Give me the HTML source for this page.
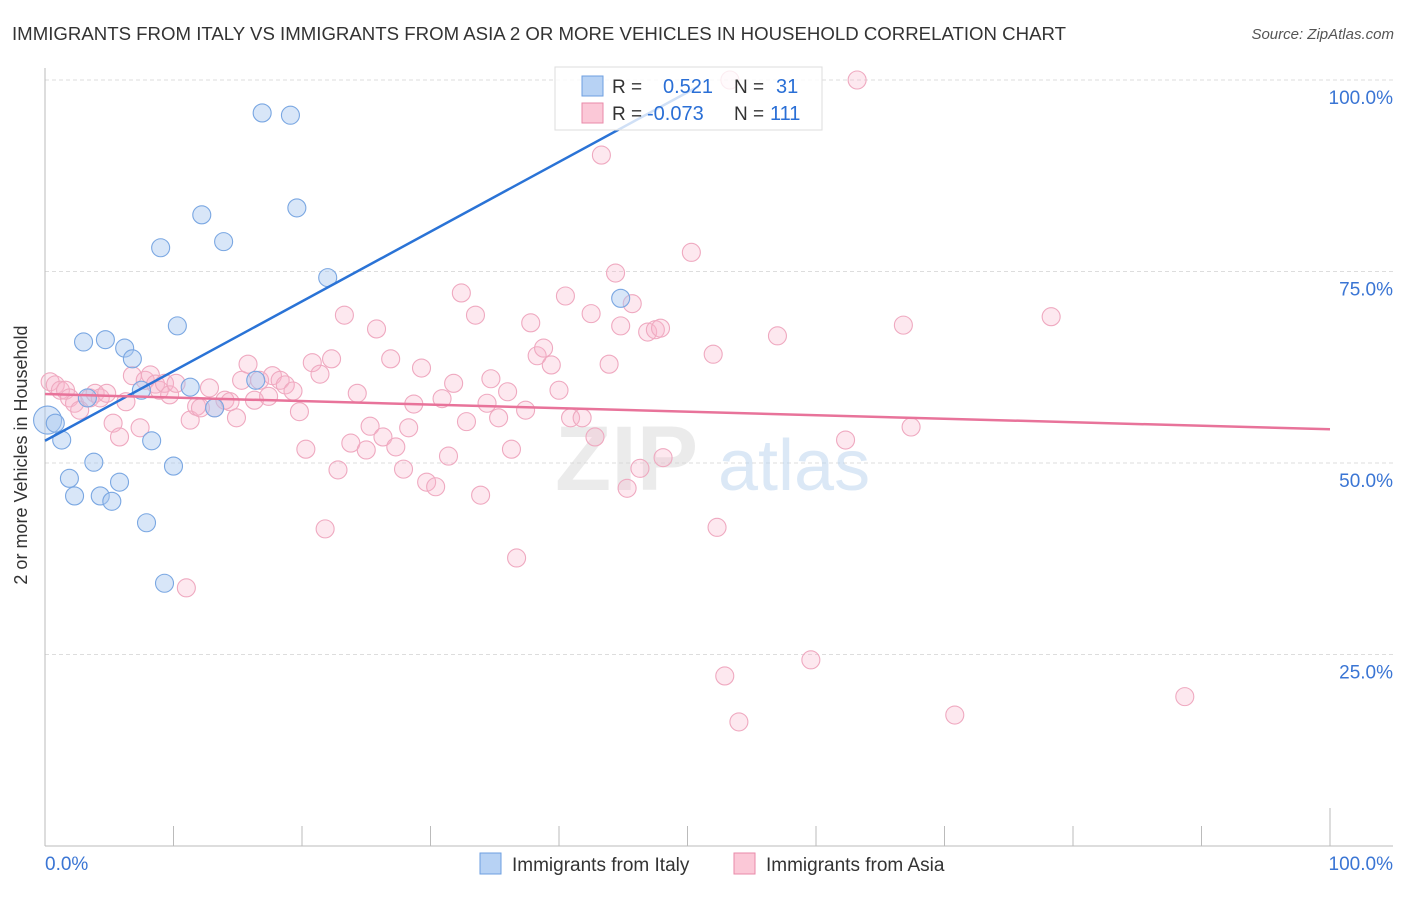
<!DOCTYPE html>
<html><head><meta charset="utf-8"><style>
body{margin:0;background:#fff;font-family:"Liberation Sans",sans-serif;}
svg text{font-family:"Liberation Sans",sans-serif;}
</style></head><body>
<svg id="chart" width="1406" height="892" xmlns="http://www.w3.org/2000/svg">
<text x="12" y="40" font-size="18" fill="#333" textLength="1054" lengthAdjust="spacingAndGlyphs">IMMIGRANTS FROM ITALY VS IMMIGRANTS FROM ASIA 2 OR MORE VEHICLES IN HOUSEHOLD CORRELATION CHART</text>
<text x="1394" y="39" font-size="15" fill="#555" font-style="italic" text-anchor="end">Source: ZipAtlas.com</text>
<g id="grid"></g>
<g opacity="0.5">
<text x="555" y="490" font-size="92" font-family="Liberation Serif" font-weight="bold" fill="#d8d8d8">ZIP</text>
<text x="718" y="490" font-size="72" fill="#b9d2ee">atlas</text>
</g>
<g id="points"></g>
<g id="lines"></g>
<text x="27" y="455" font-size="18" fill="#333" text-anchor="middle" transform="rotate(-90 27 455)">2 or more Vehicles in Household</text>
<g>
<rect x="555" y="67" width="267" height="63" fill="#fff" fill-opacity="0.78" stroke="#ddd"/>
<rect x="582" y="76" width="21" height="20" fill="#b7d2f4" stroke="#6e9fe0"/>
<rect x="582" y="103" width="21" height="20" fill="#fbc8d7" stroke="#e88aa8"/>
<text x="612" y="93" font-size="19" fill="#333">R = </text>
<text x="663" y="93" font-size="20" fill="#2a6fd6">0.521</text>
<text x="734" y="93" font-size="19" fill="#333">N = </text>
<text x="776" y="93" font-size="20" fill="#2a6fd6">31</text>
<text x="612" y="120" font-size="19" fill="#333">R = </text>
<text x="647" y="120" font-size="20" fill="#2a6fd6">-0.073</text>
<text x="734" y="120" font-size="19" fill="#333">N = </text>
<text x="770" y="120" font-size="20" fill="#2a6fd6">111</text>
</g>
<g>
<rect x="480" y="853" width="21" height="21" fill="#b7d2f4" stroke="#6e9fe0"/>
<text x="512" y="871" font-size="19" fill="#333">Immigrants from Italy</text>
<rect x="734" y="853" width="21" height="21" fill="#fbc8d7" stroke="#e88aa8"/>
<text x="766" y="871" font-size="19" fill="#333">Immigrants from Asia</text>
</g>
</svg>
<script>
const italyX=[0.2,0.8,1.3,1.9,2.3,3.0,3.3,3.8,4.3,4.7,5.2,5.8,6.2,6.8,7.5,7.9,8.3,9.0,9.3,10.0,10.3,11.3,12.2,13.2,13.9,16.4,16.9,19.1,19.6,22.0,44.8];
const italyY=[55.6,55.2,53.0,48.0,45.7,65.8,58.5,50.1,45.7,66.1,45.0,47.5,65.0,63.6,59.5,42.2,52.9,78.1,34.3,49.6,67.9,59.9,82.4,57.2,78.9,60.8,95.7,95.4,83.3,74.2,71.5];
const asiaX=[0.4,0.8,1.2,1.6,1.9,2.3,2.7,3.5,3.9,4.3,4.8,5.3,5.8,6.3,6.8,7.4,7.8,8.2,8.6,8.9,9.3,9.7,10.2,11.0,11.3,11.8,12.1,12.8,13.2,14.0,14.4,14.9,15.3,15.8,16.3,16.7,17.4,17.7,18.3,18.7,19.3,19.8,20.3,20.8,21.4,21.8,22.3,22.8,23.3,23.8,24.3,25.0,25.3,25.8,26.3,26.9,27.3,27.9,28.3,28.7,29.3,29.7,30.4,30.9,31.4,31.8,32.4,32.8,33.5,33.9,34.4,34.7,35.3,36.0,36.3,36.7,37.4,37.8,38.3,38.8,39.4,40.0,40.5,40.9,41.8,42.5,42.8,43.3,43.9,44.4,44.8,45.3,45.7,46.3,46.9,47.5,47.9,48.1,50.3,52.0,52.3,52.9,53.3,54.0,57.0,59.6,62.3,63.2,66.8,67.4,70.8,78.3,88.7];
const asiaY=[60.6,60.2,59.5,59.5,58.5,57.8,56.9,58.5,59.1,58.5,59.1,55.2,53.4,58.0,61.4,54.6,60.8,61.5,60.3,59.5,60.4,58.9,60.4,33.7,55.6,57.4,57.2,59.8,57.2,58.2,58.0,55.9,60.8,62.9,58.2,60.8,58.7,61.4,60.8,60.2,59.4,56.7,51.8,63.1,61.6,41.4,63.6,49.1,69.3,52.6,59.1,51.7,54.8,67.5,53.4,63.6,52.1,49.2,54.6,57.7,62.4,47.5,46.9,58.4,50.9,60.4,72.2,55.4,69.3,45.8,57.8,61.0,55.9,59.3,51.8,37.6,56.9,68.3,64.0,65.0,62.8,59.5,71.8,55.9,55.9,69.5,53.4,90.2,62.9,74.8,67.9,46.7,70.8,49.3,67.1,67.4,67.6,50.7,77.5,64.2,41.6,22.2,100,16.2,66.6,24.3,53.0,100,68.0,54.7,17.1,69.1,19.5];
const italyTrend=[52.9,0.91];   // intercept, slope
const asiaTrend=[59.0,-0.046];
const yTicks=[25,50,75,100];
const yTickLabels=["25.0%","50.0%","75.0%","100.0%"];
const xTicks=[0,10,20,30,40,50,60,70,80,90,100];
const xLabels=["0.0%","100.0%"];

const NS="http://www.w3.org/2000/svg";
const X=v=>45+v*12.85, Y=v=>846-v*7.66;
function mk(tag,attrs,parent){const e=document.createElementNS(NS,tag);for(const k in attrs)e.setAttribute(k,attrs[k]);parent.appendChild(e);return e;}
const grid=document.getElementById('grid');
yTicks.forEach((t,i)=>{
  const l=mk('line',{x1:45,x2:1393,y1:Y(t),y2:Y(t),stroke:'#ddd','stroke-dasharray':'4,3'},grid);
  
  
  const tx=mk('text',{x:1393,y:Y(t)+24,'font-size':19,fill:'#3a75d4','text-anchor':'end'},grid);
  tx.textContent=yTickLabels[i];
  
  
});
const ax=mk('line',{x1:45,x2:45,y1:68,y2:846,stroke:'#bbb'},grid);


const xa=mk('line',{x1:45,x2:1393,y1:846,y2:846,stroke:'#bbb'},grid);


xTicks.forEach(t=>{
  const l=mk('line',{x1:X(t),x2:X(t),y1:t===100?808:826,y2:846,stroke:'#bbb'},grid);
  
  
});
const xl0=mk('text',{x:45,y:870,'font-size':19,fill:'#3a75d4'},grid);xl0.textContent=xLabels[0];


const xl1=mk('text',{x:1393,y:870,'font-size':19,fill:'#3a75d4','text-anchor':'end'},grid);xl1.textContent=xLabels[1];



const pts=document.getElementById('points');
asiaX.forEach((x,i)=>{
  const c=mk('circle',{cx:X(x),cy:Y(asiaY[i]),r:9,fill:'rgba(248,180,203,0.3)',stroke:'#efa9c0','stroke-width':1.1},pts);
  
  
});
italyX.forEach((x,i)=>{
  const c=mk('circle',{cx:X(x),cy:Y(italyY[i]),r:i===0?14:9,fill:'rgba(168,200,240,0.45)',stroke:'#7aa7e2','stroke-width':1.1},pts);
  
  
});
const lines=document.getElementById('lines');
const xEnd=(99.2-italyTrend[0])/italyTrend[1];
const bl=mk('line',{x1:X(0),y1:Y(italyTrend[0]),x2:X(xEnd),y2:Y(italyTrend[0]+italyTrend[1]*xEnd),stroke:'#2a73d6','stroke-width':2.5},lines);


const pl=mk('line',{x1:X(0),y1:Y(asiaTrend[0]),x2:X(100),y2:Y(asiaTrend[0]+asiaTrend[1]*100),stroke:'#e8739a','stroke-width':2.5},lines);


</script>
</body></html>
